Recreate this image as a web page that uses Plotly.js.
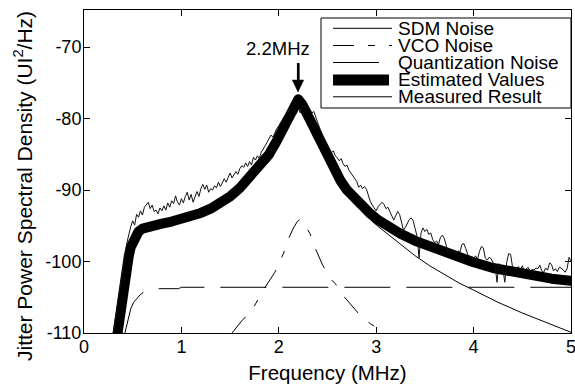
<!DOCTYPE html>
<html>
<head>
<meta charset="utf-8">
<script src="https://cdn.plot.ly/plotly-3.0.1.min.js"></script>
<style>
html,body{margin:0;padding:0;background:#fff;}
#chart{width:575px;height:392px;}
.scatterlayer .js-line{stroke-linejoin:round !important;}
.scatterlayer .trace:nth-of-type(4) .js-line{stroke-linecap:round !important;}
</style>
</head>
<body>
<div id="chart"></div>
<script>
// ---- data ----
const estF = [0.345,0.36,0.375,0.39,0.405,0.42,0.44,0.46,0.48,0.50,0.53,0.56,0.60,0.66,0.72,0.80,0.90,1.00,1.10,1.20,1.30,1.40,1.50,1.60,1.70,1.80,1.90,1.98,2.04,2.08,2.12,2.16,2.20,2.24,2.28,2.32,2.38,2.43,2.48,2.53,2.58,2.63,2.70,2.77,2.85,2.94,3.02,3.11,3.25,3.40,3.60,3.80,4.00,4.20,4.40,4.60,4.80,5.00];
const estV = [-110,-108.2,-106.8,-105.6,-104.0,-102.3,-100.6,-99.2,-98.0,-97.2,-96.3,-95.8,-95.4,-95.1,-94.9,-94.7,-94.4,-94.1,-93.7,-93.2,-92.6,-91.8,-90.9,-89.7,-88.3,-86.8,-85.0,-83.1,-81.4,-80.2,-79.1,-78.1,-77.3,-78.0,-79.1,-80.2,-81.9,-83.3,-84.8,-86.1,-87.4,-88.6,-90.0,-91.1,-92.2,-93.3,-94.2,-95.0,-96.1,-97.1,-98.2,-99.2,-100.1,-100.9,-101.5,-102.0,-102.4,-102.7];

const sdmF = [0.345,0.36,0.375,0.39,0.405,0.42,0.44,0.46,0.48,0.50,0.53,0.56,0.60,0.66,0.72,0.80,0.90,1.00,1.10,1.20,1.30,1.40,1.50,1.60,1.70,1.80,1.90,1.98,2.04,2.08,2.12,2.16,2.20,2.24,2.28,2.32,2.38,2.43,2.48,2.53,2.58,2.63,2.70,2.77,2.85,2.94,3.02,3.11,3.25,3.40,3.55,3.70,3.85,4.00,4.25,4.50,4.75,5.00];
const sdmV = [-110.4,-108.5,-107.1,-105.9,-104.4,-102.7,-101.0,-99.6,-98.5,-97.7,-96.8,-96.3,-95.9,-95.6,-95.4,-95.2,-94.9,-94.6,-94.2,-93.6,-93.0,-92.2,-91.2,-90.0,-88.6,-87.0,-85.2,-83.3,-81.6,-80.4,-79.3,-78.3,-77.5,-78.2,-79.3,-80.4,-82.1,-83.6,-85.1,-86.5,-87.8,-89.0,-90.5,-91.7,-92.9,-94.1,-95.1,-96.1,-97.6,-99.2,-100.6,-101.8,-103.0,-104.0,-105.7,-107.2,-108.6,-109.9];

const quantF = [0.42,0.44,0.46,0.48,0.51,0.55,0.58,0.62,0.68,0.75,0.85,0.97,1.00,1.50,2.00,2.50,3.00,3.50,4.00,4.50,5.00];
const quantV = [-110,-108.8,-107.6,-106.6,-105.7,-105.0,-104.6,-104.2,-103.9,-103.8,-103.8,-103.8,-103.6,-103.6,-103.6,-103.6,-103.6,-103.6,-103.6,-103.6,-103.6];

const vcoF = [1.52,1.62,1.73,1.84,1.96,2.05,2.10,2.15,2.19,2.22,2.25,2.28,2.32,2.37,2.45,2.53,2.58,2.67,2.82,2.94,3.01,3.06];
const vcoV = [-110,-108.3,-106.7,-104.0,-101.5,-98.8,-96.8,-95.3,-94.4,-94.1,-94.4,-95.2,-96.1,-98.0,-100.5,-102.4,-103.1,-104.9,-107.3,-108.7,-109.3,-110];

const measF = [0.30,0.32,0.34,0.36,0.38,0.40,0.42,0.44,0.46,0.48,0.50,0.52,0.54,0.56,0.58,0.60,0.62,0.64,0.66,0.68,0.70,0.72,0.74,0.76,0.78,0.80,0.82,0.84,0.86,0.88,0.90,0.92,0.94,0.96,0.98,1.00,1.02,1.04,1.06,1.08,1.10,1.12,1.14,1.16,1.18,1.20,1.22,1.24,1.26,1.28,1.30,1.32,1.34,1.36,1.38,1.40,1.42,1.44,1.46,1.48,1.50,1.52,1.54,1.56,1.58,1.60,1.62,1.64,1.66,1.68,1.70,1.72,1.74,1.76,1.78,1.80,1.82,1.84,1.86,1.88,1.90,1.92,1.94,1.96,1.98,2.00,2.02,2.04,2.06,2.08,2.10,2.12,2.14,2.16,2.18,2.20,2.22,2.24,2.26,2.28,2.30,2.32,2.34,2.36,2.38,2.40,2.42,2.44,2.46,2.48,2.50,2.52,2.54,2.56,2.58,2.60,2.62,2.64,2.66,2.68,2.70,2.72,2.74,2.76,2.78,2.80,2.82,2.84,2.86,2.88,2.90,2.92,2.94,2.96,2.98,3.00,3.02,3.04,3.06,3.08,3.10,3.12,3.14,3.16,3.18,3.20,3.22,3.24,3.26,3.28,3.30,3.32,3.34,3.36,3.38,3.40,3.42,3.44,3.46,3.48,3.50,3.52,3.54,3.56,3.58,3.60,3.62,3.64,3.66,3.68,3.70,3.72,3.74,3.76,3.78,3.80,3.82,3.84,3.86,3.88,3.90,3.92,3.94,3.96,3.98,4.00,4.02,4.04,4.06,4.08,4.10,4.12,4.14,4.16,4.18,4.20,4.22,4.24,4.26,4.28,4.30,4.32,4.34,4.36,4.38,4.40,4.42,4.44,4.46,4.48,4.50,4.52,4.54,4.56,4.58,4.60,4.62,4.64,4.66,4.68,4.70,4.72,4.74,4.76,4.78,4.80,4.82,4.84,4.86,4.88,4.90,4.92,4.94,4.96,4.98,5.00];
const measV = [-110,-108.3,-106.6,-104.9,-103.1,-101.3,-99.2,-97.4,-96.0,-95.1,-94.3,-94.9,-93.4,-93.8,-92.9,-93.5,-92.4,-92.0,-91.7,-92.6,-92.1,-93.0,-92.8,-93.3,-92.5,-92.9,-92.2,-92.8,-91.8,-92.4,-91.5,-91.9,-90.8,-91.7,-92.1,-91.2,-91.8,-90.9,-90.3,-91.4,-90.6,-91.7,-90.8,-90.2,-90.9,-89.8,-89.2,-89.9,-89.3,-90.3,-89.8,-90.0,-89.4,-89.7,-88.9,-89.5,-89.0,-88.4,-88.9,-88.1,-87.6,-88.3,-87.9,-87.4,-87.8,-87.0,-86.6,-86.8,-86.2,-86.7,-86.0,-86.5,-85.4,-85.8,-85.2,-85.6,-84.7,-84.3,-83.8,-83.3,-82.7,-82.3,-82.6,-81.9,-81.4,-81.0,-80.5,-80.1,-79.6,-79.4,-78.9,-78.6,-78.3,-78.9,-79.3,-78.6,-79.2,-78.4,-78.1,-78.6,-78.3,-78.7,-79.2,-79.0,-79.9,-80.6,-81.3,-82.0,-82.6,-83.5,-83.9,-84.3,-84.8,-84.5,-85.2,-85.5,-85.9,-85.6,-86.3,-86.7,-86.5,-87.2,-87.6,-87.9,-88.3,-88.8,-89.6,-89.3,-89.8,-89.5,-89.9,-90.8,-91.6,-92.1,-92.5,-92.9,-92.3,-92.0,-91.7,-92.0,-92.6,-92.4,-93.0,-93.5,-94.2,-93.6,-93.0,-93.4,-94.6,-95.6,-95.2,-94.6,-94.1,-93.9,-94.3,-95.4,-96.5,-99.5,-96.0,-95.3,-95.8,-95.5,-96.2,-96.0,-96.9,-97.4,-97.1,-97.6,-96.6,-96.3,-96.8,-97.8,-98.8,-98.3,-98.6,-98.4,-98.9,-98.5,-98.7,-97.6,-97.5,-98.2,-99.0,-99.3,-99.5,-99.6,-99.2,-99.7,-98.6,-97.9,-98.1,-99.5,-99.8,-99.4,-99.6,-100.2,-100.4,-102.9,-100.3,-100.6,-100.9,-102.9,-100.1,-98.9,-99.0,-100.8,-101.1,-101.0,-100.7,-101.2,-100.6,-101.3,-101.0,-100.8,-101.4,-101.1,-101.2,-100.9,-101.0,-100.5,-101.3,-101.5,-100.9,-101.2,-100.2,-100.4,-101.3,-101.0,-101.4,-100.8,-100.9,-101.2,-101.5,-101.0,-99.4,-100.0];

const xTicks = [0,1,2,3,4,5];
const yTicks = [-110,-100,-90,-80,-70];
const yTickText = ['-110','-100','-90','-80','-70'];
const seriesNames = ['SDM Noise','VCO Noise','Quantization Noise','Estimated Values','Measured Result'];
const peakFreq = 2.2;          // marked resonance (MHz)
const peakLabel = '2.2MHz';

// ---- styling ----
const FONT = 'Liberation Sans, Arial, Helvetica, sans-serif';
const W = 575, H = 392, ML = 84, MR = 4, MT = 10, MB = 59;
const PW = W - ML - MR, PH = H - MT - MB;
const px2x = p => (p - ML) / PW;      // paper coords helpers (legend box / titles)
const py2y = p => (H - MB - p) / PH;

const traces = [
  {x: sdmF, y: sdmV, name: seriesNames[0], mode: 'lines', line: {color: '#000', width: 1}},
  {x: vcoF, y: vcoV, name: seriesNames[1], mode: 'lines', line: {color: '#000', width: 1, dash: '21px,14px,7px,14px'}},
  {x: quantF, y: quantV, name: seriesNames[2], mode: 'lines', line: {color: '#000', width: 1, dash: '46px,16px'}},
  {x: estF, y: estV, name: seriesNames[3], mode: 'lines', line: {color: '#000', width: 10}},
  {x: measF, y: measV, name: seriesNames[4], mode: 'lines', line: {color: '#111', width: 1}}
];

// custom boxed legend (as in the reference)
const legRows = [28.3, 45.5, 62.5, 80, 96.8];
const legDash = ['solid', '21px,14px,7px,14px', '46px,16px', 'solid', 'solid'];
const legWidth = [1, 1, 1, 11, 1];
const shapes = [{
  type: 'rect', xref: 'paper', yref: 'paper', layer: 'above',
  x0: px2x(321), x1: px2x(571), y0: py2y(108), y1: py2y(18),
  line: {color: '#000', width: 1}, fillcolor: '#fff'
}];
const annotations = [];
seriesNames.forEach((n, i) => {
  shapes.push({type: 'line', xref: 'paper', yref: 'paper', layer: 'above',
    x0: px2x(333), x1: px2x(i === 3 ? 389 : 392), y0: py2y(legRows[i]), y1: py2y(legRows[i]),
    line: {color: '#000', width: legWidth[i], dash: legDash[i]}});
  annotations.push({xref: 'paper', yref: 'paper', x: px2x(396), y: py2y(legRows[i]),
    xanchor: 'left', yanchor: 'middle', text: n, showarrow: false,
    font: {family: FONT, size: 19, color: '#000'}});
});
// arrow pointing at the peak: shaft + filled head (x in data units, y in paper)
shapes.push({type: 'line', xref: 'x', yref: 'paper', layer: 'above',
  x0: peakFreq, x1: peakFreq, y0: py2y(63), y1: py2y(81),
  line: {color: '#000', width: 2.7}});
shapes.push({type: 'path', xref: 'paper', yref: 'paper', layer: 'above',
  path: 'M ' + px2x(292.3) + ',' + py2y(80) + ' L ' + px2x(303.7) + ',' + py2y(80) +
        ' L ' + px2x(298) + ',' + py2y(92) + ' Z',
  fillcolor: '#000', line: {color: '#000', width: 0.5}});
// 2.2 MHz label
annotations.push({x: 1.992, y: -70.2, xref: 'x', yref: 'y', text: peakLabel, showarrow: false,
  xanchor: 'center', yanchor: 'middle', font: {family: FONT, size: 18.5, color: '#000'}});
// y-axis title
annotations.push({xref: 'paper', yref: 'paper', x: px2x(23), y: py2y(186), textangle: -90,
  xanchor: 'center', yanchor: 'middle', showarrow: false,
  text: 'Jitter Power Spectral Density (UI<sup>2</sup>/Hz)',
  font: {family: FONT, size: 21, color: '#000'}});

const layout = {
  width: W, height: H,
  margin: {l: ML, r: MR, t: MT, b: MB, pad: 0},
  paper_bgcolor: '#fff', plot_bgcolor: '#fff',
  showlegend: false,
  font: {family: FONT, color: '#000'},
  xaxis: {
    range: [0, 5], tickmode: 'array', tickvals: xTicks, ticktext: xTicks.map(String),
    ticks: 'inside', ticklen: 6, tickwidth: 1, tickcolor: '#000',
    showline: true, linecolor: '#000', linewidth: 1, mirror: 'ticks',
    showgrid: false, zeroline: false, ticklabeloverflow: 'allow', ticklabelstandoff: -3,
    tickfont: {family: FONT, size: 18, color: '#000'},
    title: {text: 'Frequency (MHz)', font: {family: FONT, size: 20.5, color: '#000'}, standoff: 10}
  },
  yaxis: {
    range: [-110, -64.8], tickmode: 'array', tickvals: yTicks, ticktext: yTickText,
    ticks: 'inside', ticklen: 6, tickwidth: 1, tickcolor: '#000',
    showline: true, linecolor: '#000', linewidth: 1, mirror: 'ticks',
    showgrid: false, zeroline: false, ticklabelstandoff: -2,
    tickfont: {family: FONT, size: 18, color: '#000'}
  },
  shapes: shapes,
  annotations: annotations
};

Plotly.newPlot('chart', traces, layout, {displayModeBar: false, staticPlot: true});
</script>
</body>
</html>
